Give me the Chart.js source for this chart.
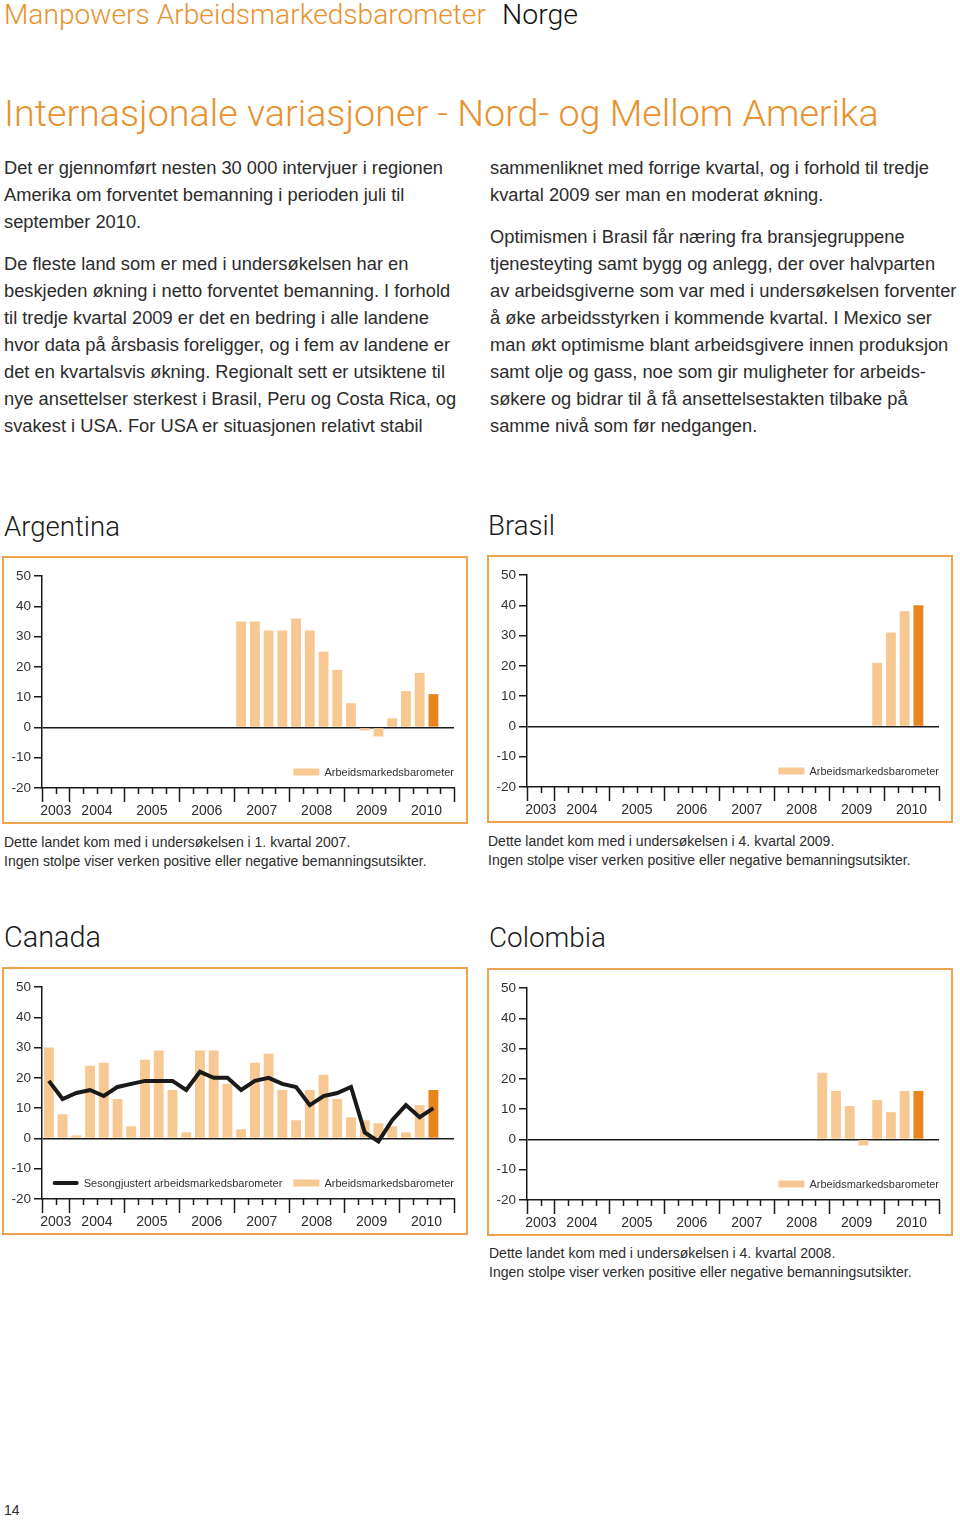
<!DOCTYPE html>
<html lang="no">
<head>
<meta charset="utf-8">
<title>Internasjonale variasjoner - Nord- og Mellom Amerika</title>
<script src="https://cdn.jsdelivr.net/npm/chart.js"></script>
<style>
  body { margin: 0; width: 960px; height: 1521px; position: relative; overflow: hidden;
         background: #fff; color: #2b2b2b; font-family: "Liberation Sans", Arial, sans-serif; }
  .abs { position: absolute; white-space: nowrap; }
  .fit { font-family: Roboto, "Liberation Sans", sans-serif; font-weight: 300; line-height: 1; }
  .orange { color: #e8912d; }
  .col { position: absolute; top: 154px; font-size: 18.3px; line-height: 27px; }
  .col p { margin: 0 0 15px 0; white-space: nowrap; }
  .note { position: absolute; font-size: 14px; line-height: 19px; white-space: nowrap; }
  .box { position: absolute; width: 466px; height: 268px; box-sizing: border-box;
         border: 2px solid #efa24e; background: #fff; }
  .box canvas { display: block; }
</style>
</head>
<body>

<span class="abs fit orange" data-x="4" data-w="482" data-base="25">Manpowers Arbeidsmarkedsbarometer</span>
<span class="abs fit" style="color:#111" data-x="502" data-w="76" data-base="25">Norge</span>

<span class="abs fit orange" data-x="4" data-w="875" data-base="127">Internasjonale variasjoner - Nord- og Mellom Amerika</span>

<div class="col" style="left:4px">
  <p>Det er gjennomført nesten 30 000 intervjuer i regionen<br>Amerika om forventet bemanning i perioden juli til<br>september 2010.</p>
  <p>De fleste land som er med i undersøkelsen har en<br>beskjeden økning i netto forventet bemanning. I forhold<br>til tredje kvartal 2009 er det en bedring i alle landene<br>hvor data på årsbasis foreligger, og i fem av landene er<br>det en kvartalsvis økning. Regionalt sett er utsiktene til<br>nye ansettelser sterkest i Brasil, Peru og Costa Rica, og<br>svakest i USA. For USA er situasjonen relativt stabil</p>
</div>
<div class="col" style="left:490px">
  <p>sammenliknet med forrige kvartal, og i forhold til tredje<br>kvartal 2009 ser man en moderat økning.</p>
  <p>Optimismen i Brasil får næring fra bransjegruppene<br>tjenesteyting samt bygg og anlegg, der over halvparten<br>av arbeidsgiverne som var med i undersøkelsen forventer<br>å øke arbeidsstyrken i kommende kvartal. I Mexico ser<br>man økt optimisme blant arbeidsgivere innen produksjon<br>samt olje og gass, noe som gir muligheter for arbeids-<br>søkere og bidrar til å få ansettelsestakten tilbake på<br>samme nivå som før nedgangen.</p>
</div>

<span class="abs fit" style="color:#1a1a1a" data-x="4" data-w="116" data-base="536">Argentina</span>
<span class="abs fit" style="color:#1a1a1a" data-x="488" data-w="67" data-base="535">Brasil</span>
<span class="abs fit" style="color:#1a1a1a" data-x="4" data-w="97" data-base="947">Canada</span>
<span class="abs fit" style="color:#1a1a1a" data-x="489" data-w="117" data-base="947">Colombia</span>

<div class="box" style="left:2px;top:556px"><canvas id="argentina" width="462" height="264"></canvas></div>
<div class="box" style="left:487px;top:555px"><canvas id="brasil" width="462" height="264"></canvas></div>
<div class="box" style="left:2px;top:967px"><canvas id="canada" width="462" height="264"></canvas></div>
<div class="box" style="left:487px;top:968px"><canvas id="colombia" width="462" height="264"></canvas></div>

<div class="note" style="left:4px;top:833px">Dette landet kom med i undersøkelsen i 1. kvartal 2007.<br>Ingen stolpe viser verken positive eller negative bemanningsutsikter.</div>
<div class="note" style="left:488px;top:832px">Dette landet kom med i undersøkelsen i 4. kvartal 2009.<br>Ingen stolpe viser verken positive eller negative bemanningsutsikter.</div>
<div class="note" style="left:489px;top:1244px">Dette landet kom med i undersøkelsen i 4. kvartal 2008.<br>Ingen stolpe viser verken positive eller negative bemanningsutsikter.</div>

<div class="note" style="left:4px;top:1501px">14</div>

<script>
// quarters on the x axis, 3rd quarter 2003 to 4th quarter 2010
var quarters = [
  "K3 2003", "K4 2003",
  "K1 2004", "K2 2004", "K3 2004", "K4 2004",
  "K1 2005", "K2 2005", "K3 2005", "K4 2005",
  "K1 2006", "K2 2006", "K3 2006", "K4 2006",
  "K1 2007", "K2 2007", "K3 2007", "K4 2007",
  "K1 2008", "K2 2008", "K3 2008", "K4 2008",
  "K1 2009", "K2 2009", "K3 2009", "K4 2009",
  "K1 2010", "K2 2010", "K3 2010", "K4 2010"
];
var years = ["2003", "2004", "2005", "2006", "2007", "2008", "2009", "2010"];
var yTicks = [-20, -10, 0, 10, 20, 30, 40, 50];

// net employment outlook (%) per country, from its first quarter in the survey
var argentinaStart = "K1 2007";
var argentina = [35, 35, 32, 32, 36, 32, 25, 19, 8, -1, -3, 3, 12, 18, 11];

var brasilStart = "K4 2009";
var brasil = [21, 31, 38, 40];

var canadaStart = "K3 2003";
var canada = [30, 8, 1, 24, 25, 13, 4, 26, 29, 16, 2, 29, 29, 18, 3, 25, 28, 16, 6, 16, 21, 13, 7, 6, 5, 4, 2, 11, 16];
var canadaSeasonal = [19, 13, 15, 16, 14, 17, 18, 19, 19, 19, 16, 22, 20, 20, 16, 19, 20, 18, 17, 11, 14, 15, 17, 2, -1, 6, 11, 7, 10];

var colombiaStart = "K4 2008";
var colombia = [22, 16, 11, -2, 13, 9, 16, 16];

var barLabel = "Arbeidsmarkedsbarometer";
var lineLabel = "Sesongjustert arbeidsmarkedsbarometer";

var lightBar = "#f8c893";
var darkBar = "#e8861e";
var ink = "#1a1a1a";

// put a series on the full quarter axis
function place(start, values) {
  var out = quarters.map(function() { return null; });
  var i0 = quarters.indexOf(start);
  values.forEach(function(v, i) { out[i0 + i] = v; });
  return out;
}

// quarter ticks, year labels and the legend inside the plot
var quarterAxis = {
  id: "quarterAxis",
  afterDraw: function(chart) {
    var x = chart.scales.x, area = chart.chartArea, c = chart.ctx;
    var step = x.getPixelForValue(1) - x.getPixelForValue(0);
    var left = x.getPixelForValue(0) - step / 2;
    var base = area.bottom;

    var yearStart = [];
    quarters.forEach(function(q, i) {
      if (i === 0 || q.slice(3) !== quarters[i - 1].slice(3)) yearStart.push(i);
    });
    yearStart.push(quarters.length);

    c.save();
    c.strokeStyle = ink;
    c.lineWidth = 1.5;
    for (var i = 0; i <= quarters.length; i++) {
      var px = Math.round(left + i * step) + 0.5;
      var len = yearStart.indexOf(i) >= 0 ? 14 : 6;
      c.beginPath();
      c.moveTo(px, base);
      c.lineTo(px, base + len);
      c.stroke();
    }
    c.fillStyle = "#2b2b2b";
    c.font = '14px "Liberation Sans"';
    c.textAlign = "center";
    c.textBaseline = "middle";
    years.forEach(function(yr, k) {
      var mid = (yearStart[k] + yearStart[k + 1]) / 2;
      c.fillText(yr, left + mid * step, base + 23);
    });

    // legend, right aligned
    c.font = '11px "Liberation Sans"';
    c.textAlign = "left";
    var ly = base - 16;
    var xr = area.right;
    var sets = chart.data.datasets.slice().reverse();
    sets.forEach(function(ds) {
      var w = c.measureText(ds.label).width;
      c.fillStyle = "#333";
      c.fillText(ds.label, xr - w, ly + 1);
      var sx = xr - w - 5 - 26;
      if (ds.type === "line") {
        c.strokeStyle = ink;
        c.lineWidth = 4;
        c.lineCap = "round";
        c.beginPath();
        c.moveTo(sx + 2, ly);
        c.lineTo(sx + 24, ly);
        c.stroke();
      } else {
        c.fillStyle = lightBar;
        c.fillRect(sx, ly - 3.5, 26, 7);
      }
      xr = sx - 11;
    });
    c.restore();
  }
};

function makeChart(id, values, seasonal) {
  var last = values.reduce(function(a, v, i) { return v === null ? a : i; }, -1);
  var datasets = [];
  if (seasonal) {
    datasets.push({
      type: "line",
      label: lineLabel,
      data: seasonal,
      borderColor: ink,
      borderWidth: 4,
      pointRadius: 0,
      tension: 0,
      spanGaps: false
    });
  }
  datasets.push({
    type: "bar",
    label: barLabel,
    data: values,
    backgroundColor: function(ctx) { return ctx.dataIndex === last ? darkBar : lightBar; },
    barPercentage: 0.72,
    categoryPercentage: 1
  });

  return new Chart(document.getElementById(id), {
    data: { labels: quarters, datasets: datasets },
    options: {
      responsive: false,
      animation: false,
      devicePixelRatio: 1,
      layout: { padding: { top: 18, right: 12, left: 0, bottom: 0 } },
      plugins: { legend: { display: false }, tooltip: { enabled: false } },
      scales: {
        x: {
          type: "category",
          offset: true,
          grid: { display: false, drawTicks: false },
          border: { display: true, color: ink, width: 1.5 },
          ticks: { display: false },
          afterFit: function(s) { s.height = 34; }
        },
        y: {
          min: yTicks[0],
          max: yTicks[yTicks.length - 1],
          afterBuildTicks: function(s) { s.ticks = yTicks.map(function(v) { return { value: v }; }); },
          ticks: { color: "#333", padding: 3, font: { family: "Liberation Sans", size: 13.5 } },
          grid: {
            drawOnChartArea: true,
            color: function(ctx) { return ctx.tick && ctx.tick.value === 0 ? ink : "rgba(0,0,0,0)"; },
            lineWidth: 1.5,
            tickLength: 8,
            tickColor: ink,
            tickWidth: 1.5
          },
          border: { color: ink, width: 1.5 },
          afterFit: function(s) { s.width = 38; }
        }
      }
    },
    plugins: [quarterAxis]
  });
}

makeChart("argentina", place(argentinaStart, argentina));
makeChart("brasil", place(brasilStart, brasil));
makeChart("canada", place(canadaStart, canada), place(canadaStart, canadaSeasonal));
makeChart("colombia", place(colombiaStart, colombia));

// size the light headings to the widths they have on the page
document.querySelectorAll(".fit").forEach(function(el) {
  el.style.fontSize = "40px";
  var w = el.getBoundingClientRect().width;
  var size = 40 * (+el.dataset.w) / w;
  el.style.fontSize = size.toFixed(2) + "px";
  el.style.left = el.dataset.x + "px";
  el.style.top = (+el.dataset.base - 0.842 * size).toFixed(1) + "px";
});
</script>
</body>
</html>
